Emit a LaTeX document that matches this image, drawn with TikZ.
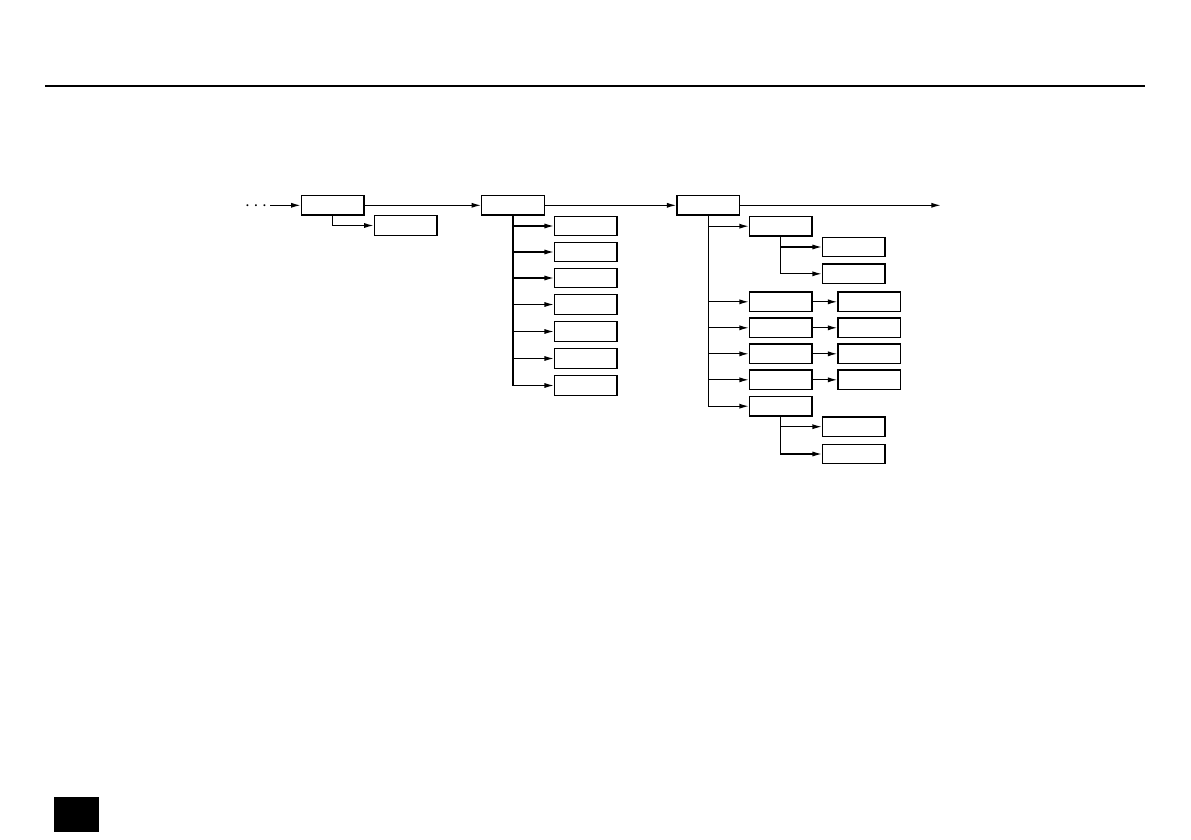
\documentclass[tikz,border=0pt]{standalone}
\usetikzlibrary{arrows.meta,positioning}

\begin{document}
\begin{tikzpicture}[x=0.75pt, y=-0.75pt, >={Latex[length=7pt,width=3.8pt]},
  menu/.style={draw,line width=1pt,minimum width=47pt,minimum height=14.7pt,inner sep=0pt},
  link/.style={->,line width=0.9pt}]
\useasboundingbox (0,0) rectangle (1191,839);
% page furniture
\draw[line width=1.7pt] (45,85.8) -- (1145,85.8);
\fill (54,797) rectangle (99,832);

% first level
\node[inner sep=0pt,font=\Large] (dots) at (256,206.5) {$\cdots$};
\coordinate (in) at (270,205.3);
\node[menu] (top1)  at (332.5,205.3) {};
\node[menu] (top1a) at (405.5,225.5) {};
\node[menu] (top2)  at (513,205.3) {};
\node[menu] (top3)  at (708.3,205.3) {};
\coordinate (out) at (940.7,205.3);
\draw[link] (in) -- (top1);
\draw[link] (top1) -- (top2);
\draw[link] (top2) -- (top3);
\draw[link] (top3) -- (out);
\draw[link] (top1.south) |- (top1a.west);

% second menu
\foreach \y [count=\i] in {226,252,278,304.5,331.5,358.5,385.5}{
  \node[menu] (sub\i) at (585.8,\y) {};
  \draw[link] (top2.south) |- (sub\i.west);
}

% third menu
\node[menu] (set1) at (780.8,226.2) {};
\node[menu] (set1a) at (853.8,247) {};
\node[menu] (set1b) at (853.8,273.8) {};
\foreach \y [count=\i from 2] in {301.8,327.8,353.8,379.8}{
  \node[menu] (set\i)  at (780.8,\y) {};
  \node[menu] (opt\i)  at (869.3,\y) {};
  \draw[link] (top3.south) |- (set\i.west);
  \draw[link] (set\i) -- (opt\i);
}
\node[menu] (set6)  at (780.8,406.2) {};
\node[menu] (set6a) at (853.8,426.7) {};
\node[menu] (set6b) at (853.8,454) {};
\draw[link] (top3.south) |- (set1.west);
\draw[link] (top3.south) |- (set6.west);
\draw[link] (set1.south) |- (set1a.west);
\draw[link] (set1.south) |- (set1b.west);
\draw[link] (set6.south) |- (set6a.west);
\draw[link] (set6.south) |- (set6b.west);
\end{tikzpicture}
\end{document}
